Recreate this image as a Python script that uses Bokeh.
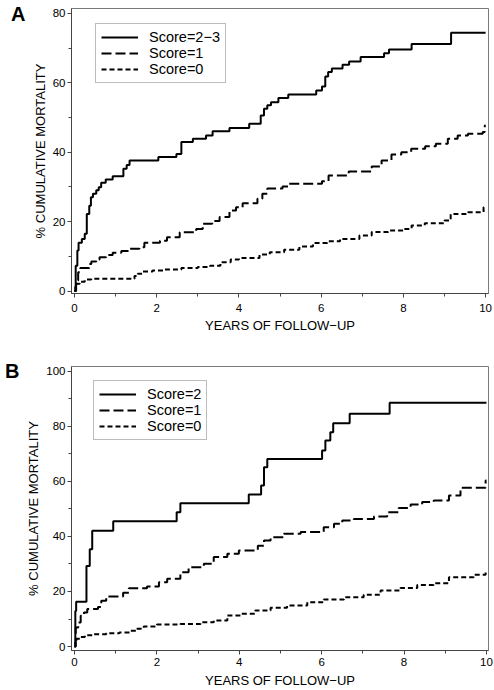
from bokeh.plotting import figure
from bokeh.models import (Range1d, SingleIntervalTicker, FixedTicker, Legend, LegendItem,
                          LinearAxis, CustomJSTickFormatter)
from bokeh.layouts import column
from bokeh.embed import file_html
from bokeh.resources import INLINE

FONT = "Liberation Sans"

# ---------------- Panel A data ----------------
a_labels = ["Score=2\u22123", "Score=1", "Score=0"]

a_high_t = [0, 0.03, 0.07, 0.10, 0.18, 0.25, 0.30, 0.36, 0.40, 0.45, 0.53, 0.59, 0.65, 0.76, 0.93,
            1.19, 1.27, 1.34, 2.04, 2.48, 2.60, 2.88, 3.20, 3.36, 3.77, 4.25, 4.53, 4.61, 4.69, 4.78,
            4.96, 5.20, 5.88, 6.02, 6.10, 6.17, 6.26, 6.52, 6.68, 6.96, 7.53, 7.65, 8.20, 9.16, 10.0]
a_high_v = [0, 7.3, 11.7, 13.9, 15.0, 16.5, 22.2, 24.6, 27.0, 28.0, 29.0, 29.9, 31.2, 32.1, 33.1,
            35.2, 36.3, 37.6, 38.6, 39.5, 42.9, 43.9, 44.8, 46.0, 47.0, 48.2, 50.6, 52.5, 53.5, 54.4,
            55.6, 56.6, 57.8, 58.9, 61.8, 63.1, 64.1, 65.2, 66.1, 67.4, 68.5, 69.6, 71.2, 74.4, 74.4]

a_mid_t = [0, 0.04, 0.09, 0.14, 0.36, 0.41, 0.53, 0.61, 0.77, 0.93, 1.14, 1.34, 1.58, 1.70, 2.08,
           2.25, 2.56, 2.96, 3.12, 3.35, 3.53, 3.77, 3.93, 4.09, 4.45, 4.57, 4.69, 5.06, 5.22, 6.02,
           6.18, 6.67, 7.23, 7.47, 7.71, 7.95, 8.19, 8.53, 8.79, 9.08, 9.32, 9.57, 9.93, 9.98, 10.0]
a_mid_v = [0, 3.0, 5.4, 6.6, 7.8, 8.5, 9.1, 9.7, 10.4, 11.0, 11.5, 12.2, 12.6, 13.9, 14.5,
           15.5, 16.9, 17.9, 19.4, 20.2, 21.3, 23.2, 24.1, 25.3, 26.6, 28.0, 29.5, 30.1, 30.9, 31.6,
           33.3, 34.4, 35.9, 37.6, 39.3, 40.0, 41.0, 41.7, 42.4, 43.9, 44.8, 45.3, 45.8, 47.7, 47.7]

a_low_t = [0, 0.02, 0.05, 0.13, 0.25, 0.41, 1.46, 1.54, 1.66, 1.90, 2.20, 2.60, 3.00, 3.30, 3.55,
           3.80, 4.00, 4.50, 4.75, 5.10, 5.47, 5.80, 6.15, 6.46, 6.93, 7.23, 7.63, 8.00, 8.20, 8.52,
           9.00, 9.15, 9.57, 9.95, 10.0]
a_low_v = [0, 1.2, 2.1, 2.7, 3.3, 3.5, 4.3, 5.0, 5.6, 5.9, 6.2, 6.6, 6.9, 7.3, 8.3,
           9.1, 9.5, 10.5, 11.2, 11.9, 12.8, 13.8, 14.3, 15.0, 16.0, 17.0, 17.4, 17.9, 18.9, 19.5,
           20.3, 22.2, 22.7, 24.1, 24.1]

# ---------------- Panel B data ----------------
b_labels = ["Score=2", "Score=1", "Score=0"]

b_high_t = [0, 0.02, 0.04, 0.29, 0.37, 0.43, 0.94, 2.48, 2.57, 4.23, 4.53, 4.60, 4.68, 6.01, 6.09,
            6.21, 6.28, 6.68, 7.65, 10.0]
b_high_v = [0, 12.9, 16.3, 29.3, 35.4, 42.1, 45.5, 48.8, 52.1, 55.3, 58.5, 65.2, 68.2, 71.3, 74.9,
            77.9, 81.2, 84.6, 88.6, 88.6]

b_mid_t = [0, 0.03, 0.09, 0.15, 0.23, 0.31, 0.57, 0.65, 0.77, 1.18, 1.32, 1.76, 2.05, 2.25, 2.57,
           2.77, 3.14, 3.38, 3.71, 3.99, 4.45, 4.60, 4.76, 5.08, 5.49, 6.05, 6.30, 6.50, 6.78, 7.27,
           7.59, 7.87, 8.16, 8.44, 8.72, 9.09, 9.37, 9.98, 10.0]
b_mid_v = [0, 6.9, 8.7, 11.2, 12.4, 13.6, 14.4, 16.6, 18.2, 19.5, 21.2, 21.8, 23.4, 24.6, 27.0,
           28.8, 30.1, 32.5, 33.7, 34.9, 36.6, 38.5, 39.7, 41.0, 41.6, 43.4, 44.6, 45.8, 46.4, 47.3,
           48.8, 50.4, 51.6, 52.5, 53.1, 54.9, 57.7, 60.4, 60.4]

b_low_t = [0, 0.02, 0.05, 0.13, 0.25, 0.45, 0.77, 1.09, 1.34, 1.50, 1.68, 2.00, 2.57, 3.06, 3.38,
           3.71, 4.03, 4.39, 4.76, 5.16, 5.65, 6.05, 6.54, 7.02, 7.43, 7.91, 8.32, 8.72, 9.09, 9.69,
           9.98, 10.0]
b_low_v = [0, 1.5, 2.8, 3.5, 4.1, 4.5, 4.8, 5.1, 5.7, 6.5, 7.3, 8.0, 8.2, 8.8, 9.5,
           11.3, 11.9, 13.1, 14.1, 14.9, 16.1, 17.1, 17.9, 18.8, 20.4, 21.3, 22.4, 23.0, 25.2, 26.1,
           27.6, 27.6]

x_title = "YEARS OF FOLLOW\u2212UP"
y_title = "% CUMULATIVE MORTALITY"

DASHES = ["solid", "10 4", "5 3"]


def make_panel(letter, letter_y, series, labels, x_rng, y_rng, height, border_top, border_right,
               border_bottom, legend_loc, x_label_standoff, x_axis_label_standoff):
    p = figure(width=494, height=height, output_backend="svg", toolbar_location=None,
               title=None, x_range=Range1d(*x_rng), y_range=Range1d(*y_rng),
               min_border_left=71, min_border_right=border_right,
               min_border_top=border_top, min_border_bottom=border_bottom)
    p.grid.visible = False
    p.outline_line_color = "#7a7a7a"
    p.outline_line_width = 1
    p.background_fill_color = "white"
    p.border_fill_color = "white"

    p.xaxis.ticker = SingleIntervalTicker(interval=2, num_minor_ticks=2)
    p.yaxis.ticker = SingleIntervalTicker(interval=20, num_minor_ticks=2)
    p.xaxis.axis_label = x_title
    p.yaxis.axis_label = y_title
    for ax in (p.xaxis[0], p.yaxis[0]):
        ax.axis_line_color = "#444444"
        ax.major_tick_line_color = "#444444"
        ax.minor_tick_line_color = "#444444"
        ax.major_tick_out = 4
        ax.major_tick_in = 0
        ax.minor_tick_out = 3
        ax.minor_tick_in = 0
        ax.major_label_text_font = FONT
        ax.major_label_text_font_size = "11.5px"
        ax.major_label_text_color = "black"
        ax.axis_label_text_font = FONT
        ax.axis_label_text_font_size = "13px"
        ax.axis_label_text_font_style = "normal"
        ax.axis_label_text_color = "black"
    p.xaxis.major_label_standoff = x_label_standoff
    p.yaxis.major_label_standoff = 2
    p.xaxis.axis_label_standoff = x_axis_label_standoff
    p.yaxis.axis_label_standoff = 2

    items = []
    for (t, v), lab, dash in zip(series, labels, DASHES):
        r = p.step(x=t, y=v, mode="after", line_color="black", line_width=2, line_dash=dash)
        items.append(LegendItem(label=lab, renderers=[r]))

    leg = Legend(items=items, location=legend_loc, orientation="vertical",
                 border_line_color="#7a7a7a", border_line_width=1,
                 background_fill_color="white", background_fill_alpha=1.0,
                 padding=5, spacing=0, margin=0,
                 glyph_width=37, glyph_height=16, label_height=16,
                 label_standoff=11, label_text_font=FONT, label_text_font_size="14.5px",
                 label_text_baseline="middle", label_text_color="black")
    p.add_layout(leg)

    # panel letter drawn as the single tick label of an extra, otherwise invisible, left axis
    letter_axis = LinearAxis(ticker=FixedTicker(ticks=[letter_y], minor_ticks=[]),
                             formatter=CustomJSTickFormatter(code="return '%s';" % letter),
                             axis_line_color=None, major_tick_line_color=None,
                             minor_tick_line_color=None, major_tick_out=0, major_tick_in=0,
                             minor_tick_out=0, minor_tick_in=0, major_label_standoff=4,
                             major_label_text_font=FONT, major_label_text_font_size="20px",
                             major_label_text_font_style="bold", major_label_text_color="black")
    p.add_layout(letter_axis, "left")
    return p


pA = make_panel("A", 79.7,
                [(a_high_t, a_high_v), (a_mid_t, a_mid_v), (a_low_t, a_low_v)], a_labels,
                (-0.072, 10.07), (-0.72, 81.4), 340, 8, 3, 47, (24, 210), 6, 3)
pB = make_panel("B", 100.2,
                [(b_high_t, b_high_v), (b_mid_t, b_mid_v), (b_low_t, b_low_v)], b_labels,
                (-0.073, 10.05), (-1.45, 101.8), 350, 26, 6, 40, (22, 210), 3, 4)

layout = column(pA, pB, spacing=0)
open("out.html", "w").write(file_html(layout, INLINE))
